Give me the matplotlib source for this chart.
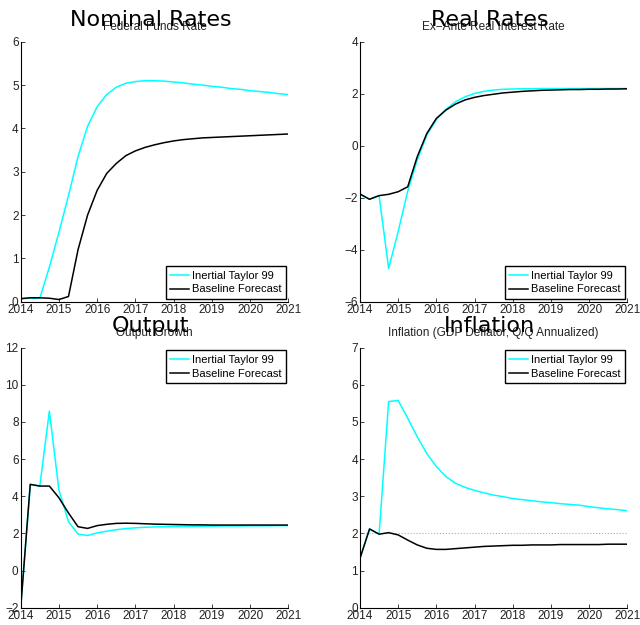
import matplotlib
matplotlib.use("Agg")
import matplotlib.pyplot as plt

plt.rcParams['font.family'] = ['Liberation Sans', 'DejaVu Sans']

quarters = [2014.0, 2014.25, 2014.5, 2014.75, 2015.0, 2015.25, 2015.5, 2015.75,
            2016.0, 2016.25, 2016.5, 2016.75, 2017.0, 2017.25, 2017.5, 2017.75,
            2018.0, 2018.25, 2018.5, 2018.75, 2019.0, 2019.25, 2019.5, 2019.75,
            2020.0, 2020.25, 2020.5, 2020.75, 2021.0]
year_ticks = [2014, 2015, 2016, 2017, 2018, 2019, 2020, 2021]

# nominal rates (federal funds rate)
nominal_taylor = [0.07, 0.08, 0.08, 0.80, 1.60, 2.45, 3.35, 4.05, 4.50, 4.78, 4.95, 5.04,
                  5.08, 5.10, 5.10, 5.09, 5.07, 5.05, 5.02, 5.00, 4.97, 4.95, 4.92, 4.90,
                  4.87, 4.85, 4.83, 4.80, 4.78]
nominal_base = [0.07, 0.09, 0.09, 0.08, 0.05, 0.12, 1.20, 2.00, 2.57, 2.96, 3.19, 3.37,
                3.48, 3.56, 3.62, 3.67, 3.71, 3.74, 3.76, 3.78, 3.79, 3.80, 3.81, 3.82,
                3.83, 3.84, 3.85, 3.86, 3.87]

# real rates
real_taylor = [-1.86, -2.06, -1.92, -4.72, -3.30, -1.75, -0.55, 0.41, 1.01, 1.40, 1.69, 1.88,
               2.01, 2.09, 2.14, 2.17, 2.18, 2.19, 2.19, 2.20, 2.20, 2.20, 2.20, 2.20,
               2.20, 2.20, 2.20, 2.20, 2.20]
real_base = [-1.86, -2.06, -1.92, -1.87, -1.77, -1.58, -0.42, 0.47, 1.05, 1.37, 1.60, 1.76,
             1.86, 1.93, 1.98, 2.03, 2.06, 2.09, 2.11, 2.13, 2.14, 2.15, 2.16, 2.16,
             2.17, 2.17, 2.18, 2.18, 2.19]

# output growth
output_taylor = [-2.0, 4.64, 4.55, 8.59, 4.33, 2.63, 1.96, 1.89, 2.03, 2.12, 2.20, 2.26,
                 2.30, 2.33, 2.35, 2.36, 2.37, 2.38, 2.38, 2.39, 2.39, 2.40, 2.40, 2.40,
                 2.41, 2.41, 2.41, 2.42, 2.42]
output_base = [-2.0, 4.64, 4.55, 4.55, 3.92, 3.10, 2.36, 2.27, 2.42, 2.49, 2.54, 2.55,
               2.54, 2.52, 2.50, 2.49, 2.48, 2.47, 2.46, 2.46, 2.45, 2.45, 2.45, 2.45,
               2.45, 2.45, 2.45, 2.45, 2.45]

# inflation
infl_taylor = [1.33, 2.12, 1.98, 5.55, 5.58, 5.10, 4.60, 4.15, 3.80, 3.53, 3.35, 3.24,
               3.16, 3.09, 3.03, 2.99, 2.94, 2.91, 2.88, 2.85, 2.83, 2.80, 2.78, 2.76,
               2.72, 2.69, 2.66, 2.64, 2.61]
infl_base = [1.33, 2.12, 1.98, 2.02, 1.96, 1.82, 1.69, 1.60, 1.57, 1.57, 1.59, 1.61,
             1.63, 1.65, 1.66, 1.67, 1.68, 1.68, 1.69, 1.69, 1.69, 1.70, 1.70, 1.70,
             1.70, 1.70, 1.71, 1.71, 1.71]
infl_target = 2

labels = ["Inertial Taylor 99", "Baseline Forecast"]

fig = plt.figure(figsize=(6.4, 6.25), dpi=100)

W, H = 640.0, 625.0
def box(x0, x1, ytop, ybot):
    return [x0 / W, 1 - ybot / H, (x1 - x0) / W, (ybot - ytop) / H]

panels = [
    (box(20.7, 288.3, 41.7, 301.7), "Nominal Rates", "Federal Funds Rate",
     nominal_taylor, nominal_base, (0, 6), range(0, 7), 'lower right'),
    (box(360.0, 627.3, 41.7, 301.7), "Real Rates", "Ex\u2212Ante Real Interest Rate",
     real_taylor, real_base, (-6, 4), range(-6, 5, 2), 'lower right'),
    (box(20.7, 288.3, 347.7, 607.7), "Output", "Output Growth",
     output_taylor, output_base, (-2, 12), range(-2, 13, 2), 'upper right'),
    (box(360.0, 627.3, 347.7, 607.7), "Inflation", "Inflation (GDP Deflator, Q/Q Annualized)",
     infl_taylor, infl_base, (0, 7), range(0, 8), 'upper right'),
]

for pos, big, sub, y1, y2, ylim, yt, loc in panels:
    ax = fig.add_axes(pos)
    if big == "Inflation":
        ax.plot(quarters, [infl_target] * len(quarters), ':', color='#b0b0b0', lw=0.8)
    ax.plot(quarters, y1, color='#00ffff', lw=1.1, label=labels[0])
    ax.plot(quarters, y2, color='black', lw=1.1, label=labels[1])
    ax.set_xlim(2014, 2021)
    ax.set_ylim(*ylim)
    ax.set_xticks(year_ticks)
    ax.set_yticks(list(yt))
    ax.spines['top'].set_visible(False)
    ax.spines['right'].set_visible(False)
    ax.tick_params(direction='in', length=3, width=0.6, labelsize=8.5, pad=1.5, colors='#222222')
    for s in ('left', 'bottom'):
        ax.spines[s].set_linewidth(0.8)
    leg = ax.legend(loc=loc, fontsize=8, frameon=True, fancybox=False, framealpha=1,
                    edgecolor='black', borderpad=0.4, labelspacing=0.35,
                    handlelength=1.7, handletextpad=0.2, borderaxespad=0.25)
    leg.get_frame().set_linewidth(1.0)
    ax.annotate(sub, xy=(0.5, 1), xycoords='axes fraction', xytext=(0, 8.3),
                textcoords='offset points', ha='center', va='baseline', fontsize=8.5,
                color='#222222')
    ax.annotate(big, xy=(0.5, 1), xycoords='axes fraction', xytext=(-3, 11.5),
                textcoords='offset points', ha='center', va='baseline', fontsize=16,
                family='DejaVu Sans')

fig.savefig("out.png", dpi=100)
